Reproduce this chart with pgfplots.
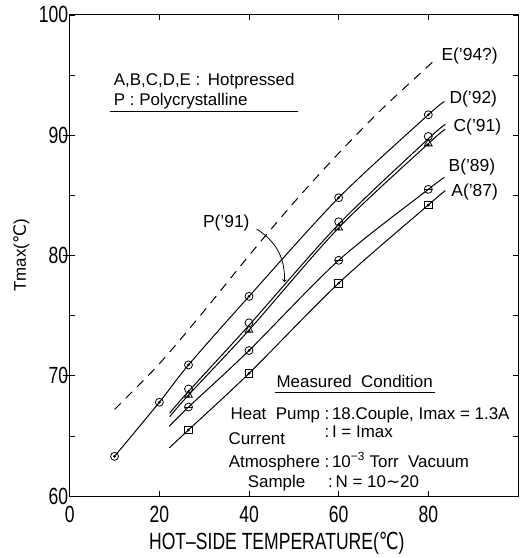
\documentclass[border=0pt]{standalone}
\usepackage{fontspec}
\setmainfont{Liberation Sans}
\newfontfamily\condfont[FakeStretch=0.75]{Liberation Sans}
\newfontfamily\dejavu{DejaVu Sans}
\newfontfamily\dejacond[FakeStretch=0.75]{DejaVu Sans}
\usepackage{pgfplots}
\pgfplotsset{compat=1.18}

\newcommand{\degC}{{\dejavu ℃}}
\newcommand{\degCc}{{\dejacond ℃}}

\begin{document}
\begin{tikzpicture}
\begin{axis}[
    width=450pt, height=483pt, scale only axis,
    xmin=0, xmax=100, ymin=60, ymax=100,
    xtick={0,20,40,60,80},
    ytick={60,70,80,90,100},
    minor ytick={65,75,85,95},
    tick align=inside,
    major tick length=5pt, minor tick length=5pt,
    axis line style={line width=0.9pt},
    tick style={line width=0.8pt, black},
    ticklabel style={font=\condfont\fontsize{23.5}{24}\selectfont},
    /pgf/number format/assume math mode=true,
    yticklabel style={xshift=2pt},
    xticklabel style={yshift=-7pt},
    extra y ticks={70,80,90},
    extra y tick labels={},
    extra y tick style={tick align=outside, major tick length=7pt, ytick pos=left},
    xlabel={HOT–SIDE TEMPERATURE(\degCc)},
    xlabel style={at={(axis description cs:0.462,-0.1118)}, anchor=base,
        font=\condfont\fontsize{23.5}{24}\selectfont},
    ylabel={Tmax(\degC)},
    ylabel style={at={(axis description cs:-0.108,0.5)}, anchor=center,
        font=\fontsize{17}{18}\selectfont},
    clip=false,
    every axis plot/.append style={black, line width=1pt},
]

% E('94?) dashed
\addplot[smooth, dash pattern=on 9pt off 7pt] coordinates {
(10,67.2) (20,71.0) (30,75.4) (40,80.0) (50,84.4) (60,88.5) (70,92.3) (81.3,96.2)
};

% D('92)
\addplot[smooth] coordinates {
(10,63.3) (20,67.8) (26.5,70.9) (40,76.6) (60,84.8) (80,91.7) (83.6,92.8)
};
% P('91)
\addplot[smooth] coordinates {
(22.3,66.9) (26.5,68.7) (40,74.2) (60,82.6) (80,89.7) (83.8,90.9)
};
% C('91)
\addplot[smooth] coordinates {
(22.3,66.6) (26.5,68.4) (40,73.8) (60,82.3) (80,89.3) (83.8,90.5)
};
% B('89)
\addplot[smooth] coordinates {
(22.2,65.8) (26.5,67.4) (40,72.1) (60,79.6) (80,85.5) (83.6,86.5)
};
% A('87)
\addplot[smooth] coordinates {
(22.2,64.0) (26.5,65.5) (40,70.2) (60,77.7) (80,84.2) (83.8,85.4)
};

% markers
\addplot[only marks, mark=o, mark size=4pt, mark options={fill=white, line width=0.8pt}] coordinates {
(10,63.3) (20,67.8) (26.5,70.9) (40,76.6) (60,84.8) (80,91.7)
};
\addplot[only marks, mark=*, mark size=0.8pt] coordinates {
(10,63.3) (20,67.8) (26.5,70.9) (40,76.6) (60,84.8) (80,91.7)
};
\addplot[only marks, mark=o, mark size=4pt, mark options={fill=white, line width=0.8pt}] coordinates {
(26.5,68.9) (40,74.4) (60,82.8) (80,89.9)
};
\addplot[only marks, mark=triangle, mark size=4.5pt, mark options={fill=white, line width=0.8pt}] coordinates {
(26.5,68.4) (40,73.8) (60,82.3) (80,89.3)
};
\addplot[only marks, mark=*, mark size=0.8pt] coordinates {
(26.5,68.3) (40,73.7) (60,82.2) (80,89.2)
};
\addplot[only marks, mark=o, mark size=4pt, mark options={fill=white, line width=0.8pt}] coordinates {
(26.5,67.4) (40,72.1) (60,79.6) (80,85.5)
};
\addplot[only marks, mark=-, mark size=4pt, mark options={line width=0.8pt}] coordinates {
(26.5,67.4) (60,79.6) (80,85.5)
};
\addplot[only marks, mark=*, mark size=0.8pt] coordinates {
(40,72.1)
};
\addplot[only marks, mark=square, mark size=3.8pt, mark options={fill=white, line width=0.8pt}] coordinates {
(26.5,65.5) (40,70.2) (60,77.7) (80,84.2)
};
\addplot[only marks, mark=*, mark size=0.8pt] coordinates {
(26.5,65.5) (40,70.2) (60,77.7) (80,84.2)
};

% series labels
\begin{scope}[every node/.style={inner sep=0pt, anchor=base west, font=\fontsize{17.5}{18}\selectfont}]
\node at (axis cs:82.9,96.2) {E('94?)};
\node at (axis cs:84.7,92.6) {D('92)};
\node at (axis cs:85.6,90.3) {C('91)};
\node at (axis cs:84.5,87.0) {B('89)};
\node at (axis cs:85.1,84.9) {A('87)};
\node at (axis cs:29.7,82.3) {P('91)};
\end{scope}
\draw[->, line width=0.8pt] (axis cs:41.7,82.2) to[bend left=30] (axis cs:47.9,77.8);

% notes
\begin{scope}[every node/.style={inner sep=0pt, font=\fontsize{17}{18}\selectfont}]
\node[anchor=base west] at (axis cs:9.8,94.1) {A,B,C,D,E :\, Hotpressed};
\node[anchor=base west] at (axis cs:9.8,92.5) {P : Polycrystalline};
\draw[line width=0.8pt] (axis cs:8.9,92.0) -- (axis cs:51.0,92.0);

\node[anchor=base west] at (axis cs:46.1,69.0) {Measured\ \ Condition};
\draw[line width=0.8pt] (axis cs:45.9,68.6) -- (axis cs:81.6,68.6);

\node[anchor=base east] at (axis cs:55.9,66.4) {Heat\ \ Pump};
\node[anchor=base west] at (axis cs:35.4,64.3) {Current};
\node[anchor=base east] at (axis cs:55.9,62.4) {Atmosphere};
\node[anchor=base west] at (axis cs:39.7,60.75) {Sample};

\node[anchor=base west] at (axis cs:56.8,66.4) {:\,18.Couple, Imax = 1.3A};
\node[anchor=base west] at (axis cs:56.8,64.9) {:\,I = Imax};
\node[anchor=base west] at (axis cs:56.8,62.4) {:\,10\textsuperscript{−3} Torr\ \ Vacuum};
\node[anchor=base west] at (axis cs:57.6,60.75) {:\,N = 10{\dejavu ∼}20};
\end{scope}
\end{axis}
\path ([shift={(-70pt,-60pt)}]current axis.south west) rectangle ([shift={(7pt,15pt)}]current axis.north east);
\end{tikzpicture}
\end{document}
